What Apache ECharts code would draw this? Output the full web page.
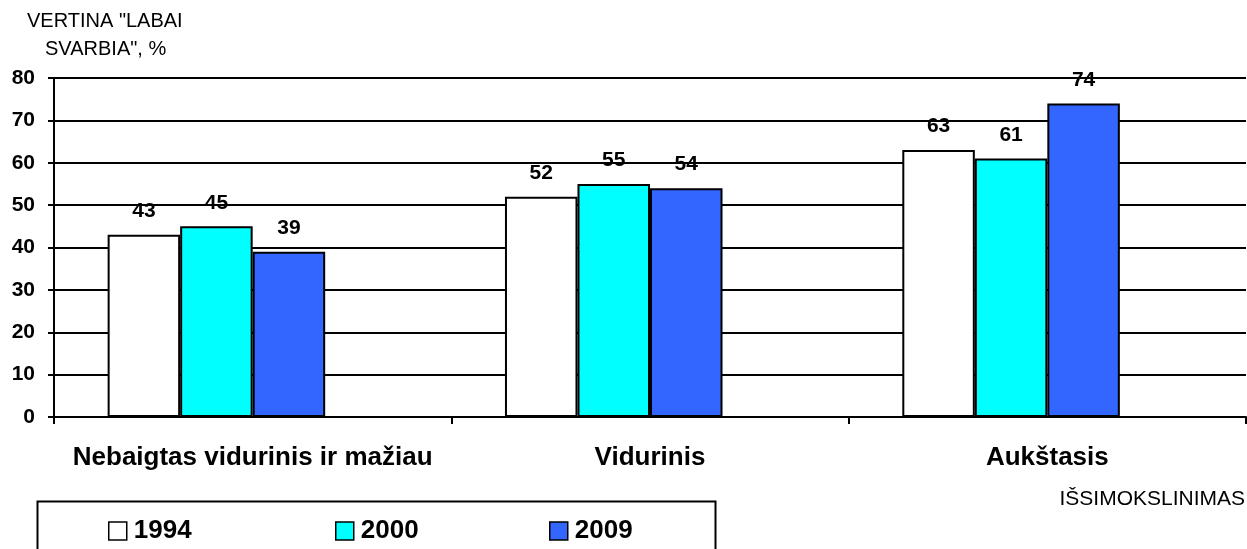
<!DOCTYPE html>
<html>
<head>
<meta charset="utf-8">
<script src="https://cdn.jsdelivr.net/npm/echarts@6/dist/echarts.min.js"></script>
<style>
  html, body { margin: 0; padding: 0; background: #fff; }
  #chart { width: 1247px; height: 549px; }
</style>
</head>
<body>
<div id="chart"></div>
<script>
// duomenys
const categories = ['Nebaigtas vidurinis ir mažiau', 'Vidurinis', 'Aukštasis'];
const years = ['1994', '2000', '2009'];
const values1994 = [43, 52, 63];
const values2000 = [45, 55, 61];
const values2009 = [39, 54, 74];
const yTicks = { min: 0, max: 80, interval: 10 };

const colors = ['#ffffff', '#00ffff', '#3366ff'];
const font = 'Liberation Sans, Arial, sans-serif';

const chart = echarts.init(document.getElementById('chart'));

function barSeries(name, data, color) {
    return {
        name: name,
        type: 'bar',
        data: data,
        barGap: 0,
        barCategoryGap: '27%',
        itemStyle: { color: color, borderColor: '#000', borderWidth: 2 },
        label: {
            show: true, position: 'top', distance: 13,
            fontFamily: font, fontSize: 21, fontWeight: 'bold', color: '#000'
        }
    };
}

const series = [
    barSeries(years[0], values1994, colors[0]),
    barSeries(years[1], values2000, colors[1]),
    barSeries(years[2], values2009, colors[2]),
    // tuščia vieta (kaip Excel'yje)
    { name: 'tuscia', type: 'bar', data: [null, null, null], barGap: 0, barCategoryGap: '27%' }
];

// legenda - kiekvienas metai atskirai, kad sutaptų pozicijos
const legendLeft = [108, 335, 549];
const legends = years.map((y, i) => ({
    data: [y],
    left: legendLeft[i], top: 518,
    padding: 0,
    itemWidth: 18, itemHeight: 18,
    icon: 'rect',
    textStyle: { fontFamily: font, fontSize: 26, fontWeight: 'bold', color: '#000', padding: [0, 0, 0, 2] },
    itemStyle: { borderColor: '#000', borderWidth: 1.5 }
}));

chart.setOption({
    animation: false,
    textStyle: { fontFamily: font },
    grid: { left: 54, right: 1, top: 78, bottom: 132 },
    graphic: [
        { type: 'text', left: 27, top: 11, style: { text: 'VERTINA "LABAI', fontFamily: font, fontSize: 20, fill: '#000' } },
        { type: 'text', left: 45, top: 39, style: { text: 'SVARBIA", %', fontFamily: font, fontSize: 20, fill: '#000' } },
        { type: 'text', right: 2, top: 489, style: { text: 'IŠSIMOKSLINIMAS', fontFamily: font, fontSize: 21, fill: '#000' } },
        { type: 'rect', left: 35, top: 499, shape: { width: 678, height: 70 }, style: { fill: 'none', stroke: '#000', lineWidth: 2 } }
    ],
    legend: legends,
    xAxis: {
        type: 'category',
        data: categories,
        axisLine: { lineStyle: { color: '#000', width: 2 } },
        axisTick: { show: true, interval: 0, length: 7, lineStyle: { color: '#000', width: 2 } },
        axisLabel: { interval: 0, hideOverlap: false, margin: 28, fontFamily: font, fontSize: 26, fontWeight: 'bold', color: '#000' }
    },
    yAxis: {
        type: 'value',
        min: yTicks.min, max: yTicks.max, interval: yTicks.interval,
        axisLine: { show: true, lineStyle: { color: '#000', width: 2 } },
        axisTick: { show: true, length: 6, lineStyle: { color: '#000', width: 2 } },
        axisLabel: { margin: 19, fontFamily: font, fontSize: 21, fontWeight: 'bold', color: '#000' },
        splitLine: { lineStyle: { color: '#000', width: 2 } }
    },
    series: series
});
</script>
</body>
</html>
